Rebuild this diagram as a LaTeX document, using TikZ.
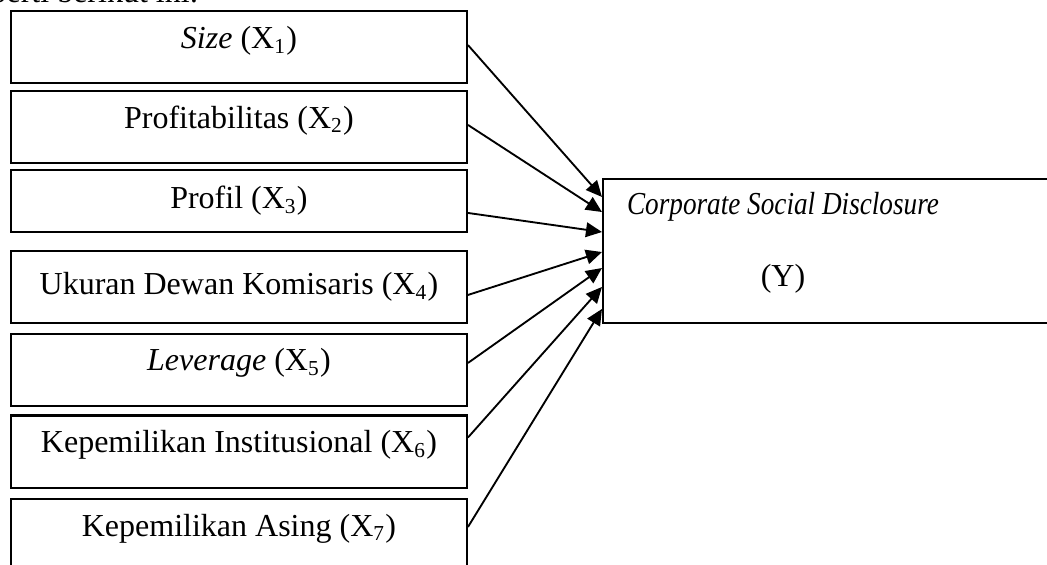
\documentclass[tikz,border=0pt]{standalone}
\usepackage{fontspec}
\setmainfont{Liberation Serif}
\usetikzlibrary{arrows.meta}

\begin{document}
\begin{tikzpicture}[auto,font=\fontsize{12}{14}\selectfont]
\tikzstyle{block} = [rectangle, draw, line width=0.75pt,
    minimum width=171pt, minimum height=27pt, text centered]
\tikzstyle{outbox} = [rectangle, draw, line width=0.75pt,
    minimum width=171.4pt, minimum height=54pt]
\tikzstyle{raised} = [text height=8.1pt, text depth=7.3pt]
\tikzstyle{line} = [draw, line width=0.7pt, -{Triangle[length=6pt,width=5.5pt]}]

\useasboundingbox (-89.6pt,-193.7pt) rectangle (303pt,17.8pt);

\node [anchor=base east] (intro) at (-11.6pt,16.7pt) {seperti berikut ini:};
%
\node [block, raised] (x1) at (0,0) {\textit{Size} (X\textsubscript{1})};
\node [block, raised, below of=x1, node distance=29.8pt] (x2) {Profitabilitas (X\textsubscript{2})};
\node [block, minimum height=23.25pt, below of=x2, node distance=27.75pt] (x3) {Profil (X\textsubscript{3})};
\node [block, below of=x3, node distance=32.25pt] (x4) {Ukuran Dewan Komisaris (X\textsubscript{4})};
\node [block, raised, below of=x4, node distance=31.1pt] (x5) {\textit{Leverage} (X\textsubscript{5})};
\node [block, raised, below of=x5, node distance=30.6pt] (x6) {Kepemilikan Institusional (X\textsubscript{6})};
\node [block, raised, below of=x6, node distance=31.3pt] (x7) {Kepemilikan Asing (X\textsubscript{7})};
%
\node [outbox, right of=x4, node distance=222.2pt, yshift=13.5pt] (Y) {};
\coordinate [left of=Y, node distance=18.2pt] (ymid);
\node [above of=ymid, node distance=16.6pt] (ytitle) {\scalebox{0.85}[1]{\textit{Corporate Social Disclosure}}};
\node [below of=ymid, node distance=10.4pt] (yname) {(Y)};
%
\path [line] ([yshift=0.9pt]x1.east) -- ([yshift=20.25pt]Y.west);
\path [line] ([yshift=0.75pt]x2.east) -- ([yshift=14.6pt]Y.west);
\path [line] ([yshift=-4.5pt]x3.east) -- ([yshift=7.1pt]Y.west);
\path [line] ([yshift=-3pt]x4.east) -- ([yshift=-0.4pt]Y.west);
\path [line] ([yshift=2.6pt]x5.east) -- ([yshift=-6.4pt]Y.west);
\path [line] ([yshift=5.25pt]x6.east) -- ([yshift=-13.5pt]Y.west);
\path [line] ([yshift=3pt]x7.east) -- ([yshift=-21.75pt]Y.west);

\end{tikzpicture}
\end{document}
